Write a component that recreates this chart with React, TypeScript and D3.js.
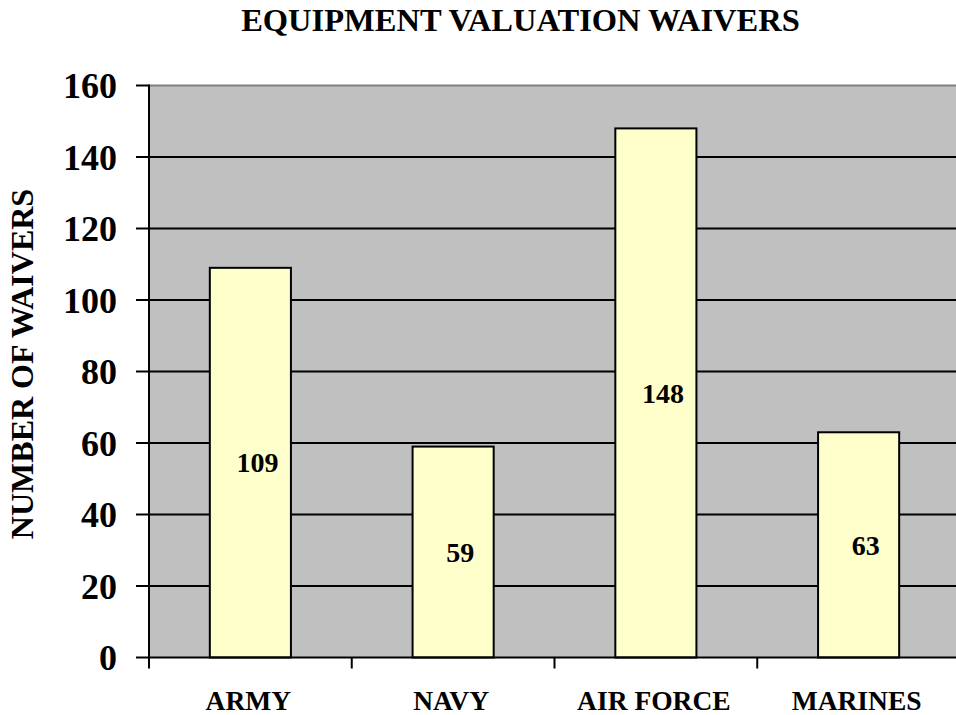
import { scaleBand, scaleLinear, range } from 'd3'

const WIDTH = 956
const HEIGHT = 715
const PLOT = { left: 149, right: 960, top: 85.5, bottom: 657.5 }

const categories = ['ARMY', 'NAVY', 'AIR FORCE', 'MARINES']
const waivers = [109, 59, 148, 63]
const yTicks = [0, 20, 40, 60, 80, 100, 120, 140, 160]
const TITLE = 'EQUIPMENT VALUATION WAIVERS'
const Y_TITLE = 'NUMBER OF WAIVERS'

const FONT = '"Liberation Serif", "Times New Roman", serif'

export default function App() {
  const x = scaleBand<string>().domain(categories).range([PLOT.left, PLOT.right]).paddingInner(0).paddingOuter(0)
  const barWidth = x.bandwidth() * 0.4
  const y = scaleLinear().domain([0, 160]).range([PLOT.bottom, PLOT.top])
  const boundaries = range(categories.length + 1).map((i) => PLOT.left + i * x.step())

  return (
    <svg
      width={WIDTH}
      height={HEIGHT}
      viewBox={`0 0 ${WIDTH} ${HEIGHT}`}
      style={{ position: 'absolute', left: 0, top: 0, background: '#fff' }}
      fontFamily={FONT}
      fontWeight="bold"
    >
      <text x={520.5} y={30.5} textAnchor="middle" fontSize={32.5}>
        {TITLE}
      </text>

      {/* plot area */}
      <rect x={PLOT.left} y={PLOT.top} width={PLOT.right - PLOT.left} height={PLOT.bottom - PLOT.top} fill="#c0c0c0" />
      <line x1={PLOT.left} x2={PLOT.right} y1={PLOT.top} y2={PLOT.top} stroke="#808080" strokeWidth={2} />

      {yTicks.filter((t) => t > 0 && t < 160).map((t) => (
        <line key={t} x1={PLOT.left} x2={PLOT.right} y1={y(t)} y2={y(t)} stroke="#000" strokeWidth={2} />
      ))}

      {categories.map((c, i) => {
        const cx = (x(c) ?? 0) + x.bandwidth() / 2
        const top = y(waivers[i])
        return (
          <g key={c}>
            <rect
              x={cx - barWidth / 2}
              y={top}
              width={barWidth}
              height={y(0) - top}
              fill="#ffffcc"
              stroke="#000"
              strokeWidth={2}
            />
            <text
              x={cx + 7}
              y={(top + y(0)) / 2}
              dy="0.35em"
              textAnchor="middle"
              fontSize={28}
            >
              {waivers[i]}
            </text>
            <text x={cx - 2} y={710} textAnchor="middle" fontSize={27.5}>
              {c}
            </text>
          </g>
        )
      })}

      {/* axes */}
      <line x1={PLOT.left} x2={PLOT.left} y1={PLOT.top - 1} y2={PLOT.bottom + 11} stroke="#000" strokeWidth={2} />
      <line x1={PLOT.left} x2={PLOT.right} y1={PLOT.bottom} y2={PLOT.bottom} stroke="#000" strokeWidth={2} />
      {boundaries.slice(1).map((bx, i) => (
        <line key={i} x1={bx} x2={bx} y1={PLOT.bottom} y2={PLOT.bottom + 11} stroke="#000" strokeWidth={2} />
      ))}
      {yTicks.map((t) => (
        <g key={t}>
          <line x1={PLOT.left - 13} x2={PLOT.left} y1={y(t)} y2={y(t)} stroke="#000" strokeWidth={2} />
          <text x={117} y={y(t)} dy="0.35em" textAnchor="end" fontSize={36}>
            {t}
          </text>
        </g>
      ))}

      <text transform={`translate(33, 364) rotate(-90)`} textAnchor="middle" fontSize={32}>
        {Y_TITLE}
      </text>
    </svg>
  )
}
